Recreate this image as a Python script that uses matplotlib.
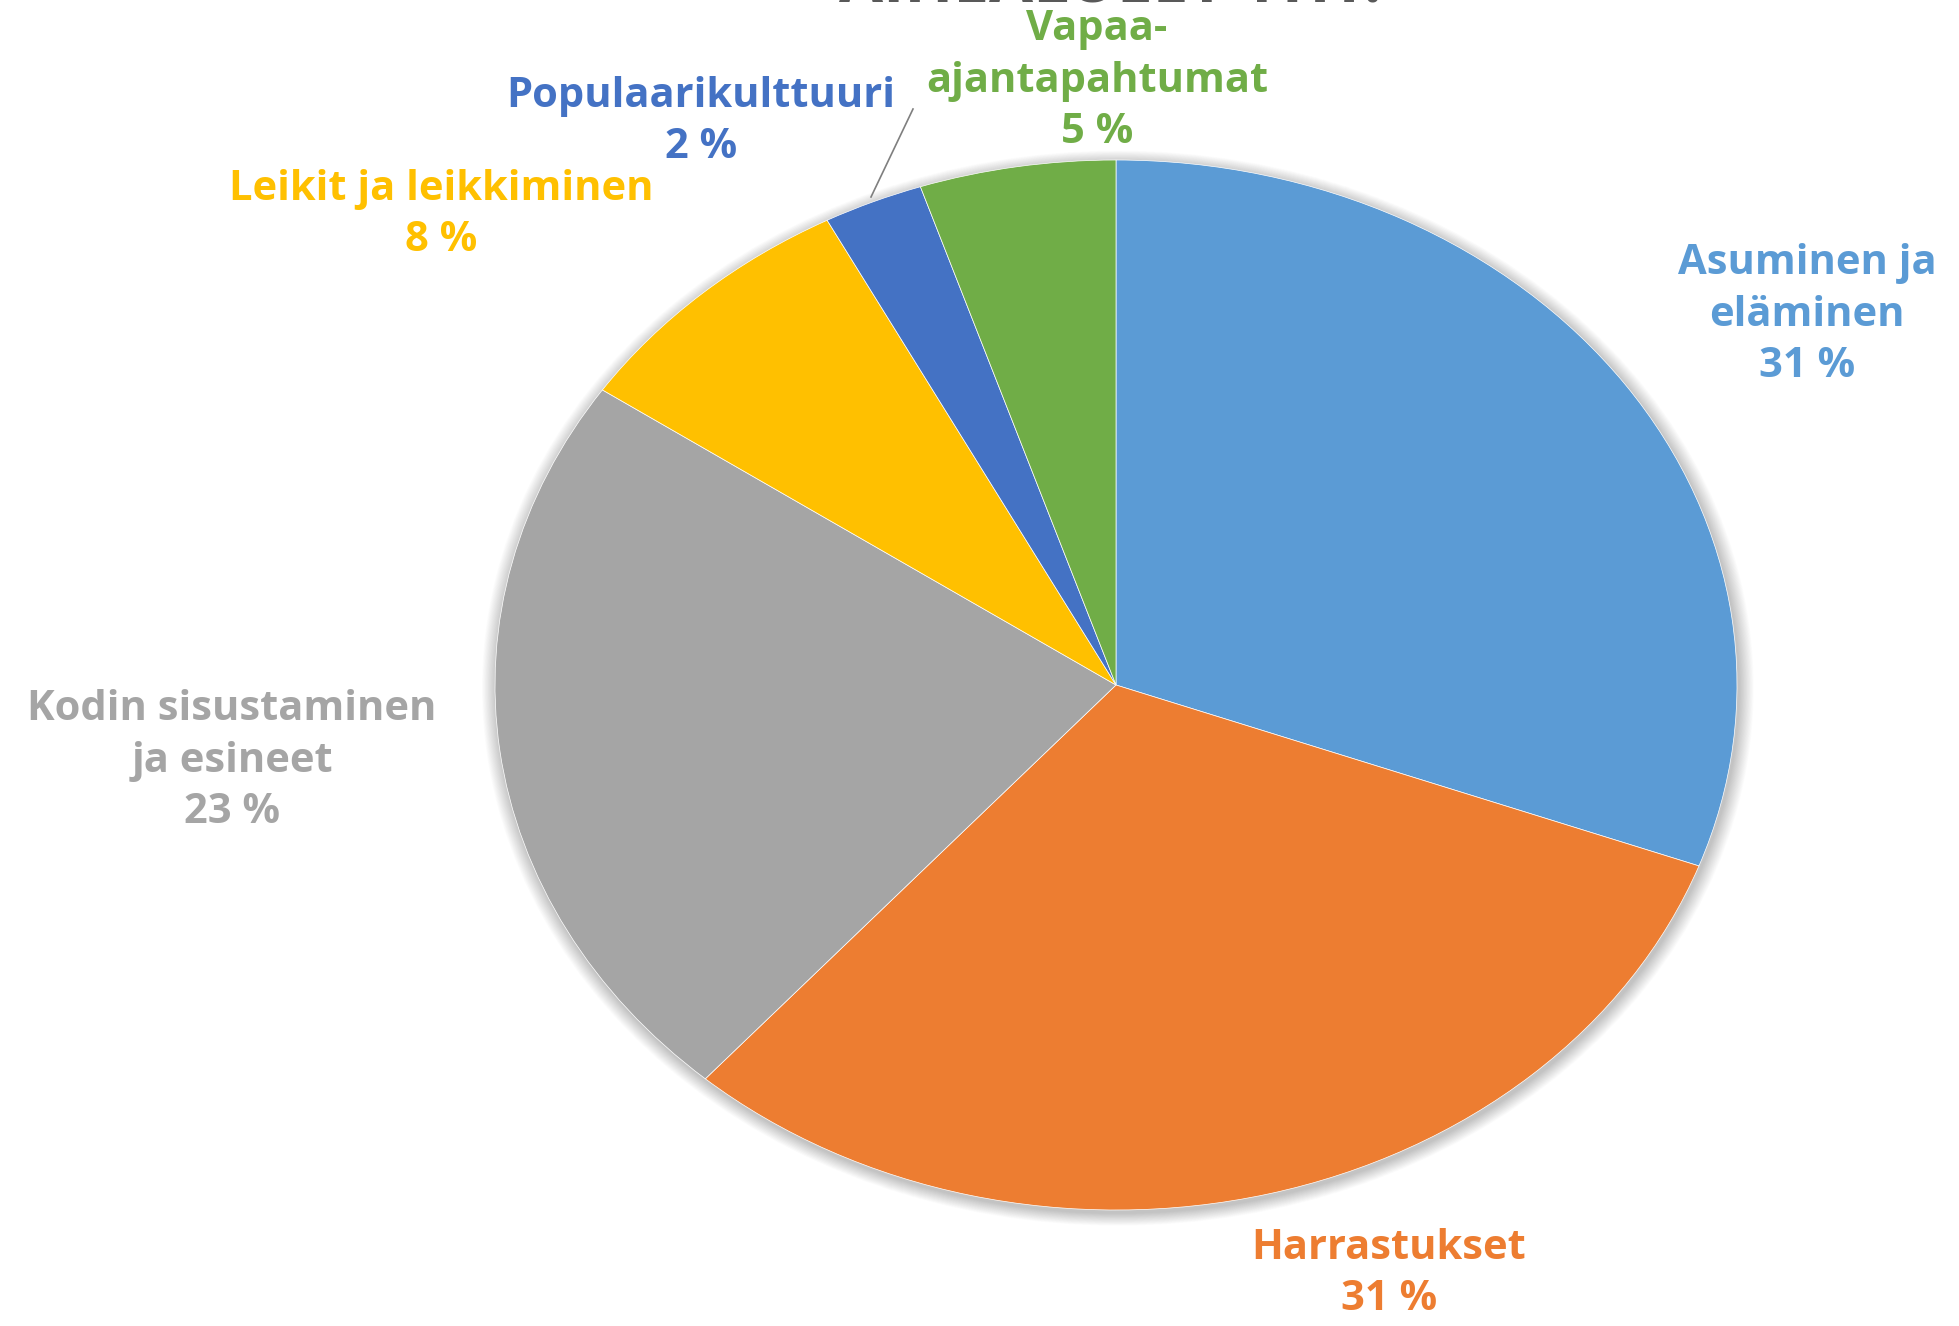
import matplotlib
matplotlib.use("Agg")
import matplotlib.pyplot as plt
from matplotlib.patches import Ellipse

categories = ["Asuminen ja\neläminen", "Harrastukset", "Kodin sisustaminen\nja esineet",
              "Leikit ja leikkiminen", "Populaarikulttuuri", "Vapaa-\najantapahtumat"]
values = [30.6, 30.9, 23.0, 7.8, 2.6, 5.1]
pct_labels = ["31 %", "31 %", "23 %", "8 %", "2 %", "5 %"]
colors = ["#5B9BD5", "#ED7D31", "#A5A5A5", "#FFC000", "#4472C4", "#70AD47"]

W, H = 1959, 1326
fig = plt.figure(figsize=(W / 100, H / 100), dpi=100)
fig.patch.set_facecolor("white")

# pie box in pixels (from top-left)
cx, cy, rx, ry = 1116, 685, 621, 525
ax = fig.add_axes([(cx - rx) / W, 1 - (cy + ry) / H, 2 * rx / W, 2 * ry / H])

# soft shadow
n = 20
for i in range(n):
    s = 1.0 + 0.0012 * (n - i)
    e = Ellipse((0.003, -0.006), 2 * s, 2 * s, facecolor="black", edgecolor="none",
                alpha=0.012, zorder=0, clip_on=False)
    ax.add_patch(e)

wedges, _ = ax.pie(values, colors=colors, startangle=90, counterclock=False,
                   radius=1.0, wedgeprops=dict(linewidth=0.5, edgecolor="white"),
                   frame=True)
for w in wedges:
    w.set_clip_on(False)
ax.set_xlim(-1, 1)
ax.set_ylim(-1, 1)
ax.set_aspect("auto")
ax.axis("off")

font = "Open Sans"
fs = 30
# label centres in pixel coords
label_pos = [(1807, 315), (1389, 1274), (232, 761), (441, 215), (701, 122), (1097, 81)]
for cat, pct, col, (px, py) in zip(categories, pct_labels, colors, label_pos):
    fig.text(px / W, 1 - py / H, cat + "\n" + pct, ha="center", va="center",
             fontsize=fs, fontweight="bold", color=col, family=font,
             linespacing=1.34, multialignment="center")

# leader line for Populaarikulttuuri
fig.add_artist(plt.Line2D([913 / W, 871 / W], [1 - 109 / H, 1 - 197 / H],
                          color="#7F7F7F", linewidth=1.2))

# title (cut off at top)
fig.text(1110 / W, 1 - 1.5 / H, "AIHEALUEET YHT.", ha="center", va="baseline",
         fontsize=46, fontweight="bold", color="#595959", family=font)

fig.savefig("out.png", dpi=100)
